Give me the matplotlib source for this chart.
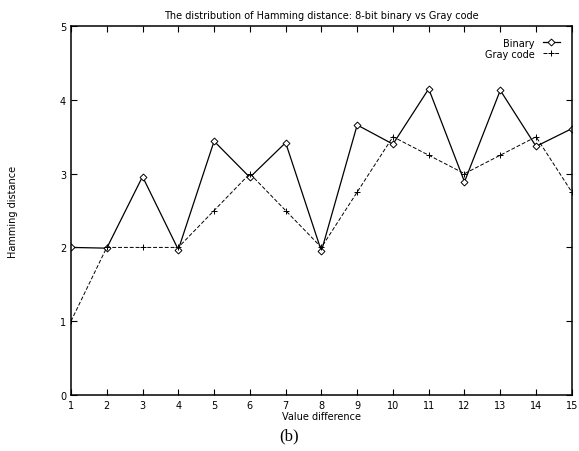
import numpy as np
import matplotlib
matplotlib.use('Agg')
import matplotlib.pyplot as plt

# Hamming distance vs value difference, 8-bit codes
value_diff = [1, 2, 3, 4, 5, 6, 7, 8, 9, 10, 11, 12, 13, 14, 15]
binary = [2.0, 1.99, 2.96, 1.97, 3.44, 2.95, 3.42, 1.95, 3.66, 3.40, 4.15, 2.89, 4.13, 3.37, 3.61]
gray_code = [1.0, 2.0, 2.0, 2.0, 2.5, 3.0, 2.5, 2.0, 2.75, 3.5, 3.25, 3.0, 3.25, 3.5, 2.75]

fig = plt.figure(figsize=(5.79, 4.52), dpi=100)
ax = fig.add_axes([0.1226, 0.124, 0.865, 0.816])

ax.plot(value_diff, binary, color='black', lw=0.9, marker='D', ms=3.5,
        mfc='white', mec='black', mew=0.7, label='Binary')
ax.plot(value_diff, gray_code, color='black', lw=0.7, ls=(0, (4, 2)),
        marker='+', ms=5, mew=0.7, label='Gray code')

ax.set_xlim(1, 15)
ax.set_ylim(0, 5)
ax.set_xticks(value_diff)
ax.set_yticks([0, 1, 2, 3, 4, 5])
ax.tick_params(direction='in', top=True, right=True, labelsize=7, length=4, width=0.8)
for s in ax.spines.values():
    s.set_linewidth(1.1)

ax.set_title('The distribution of Hamming distance: 8-bit binary vs Gray code', fontsize=7, pad=6)
ax.set_xlabel('Value difference', fontsize=7, labelpad=1)
ax.set_ylabel('Hamming distance', fontsize=7, labelpad=30)

leg = ax.legend(loc='upper right', markerfirst=False, frameon=False, fontsize=7,
                handlelength=1.8, labelspacing=0.1, borderaxespad=0.8)

fig.text(0.5, 0.035, '(b)', ha='center', va='center', fontsize=12, family='Liberation Serif')

fig.savefig('out.png', dpi=100)
